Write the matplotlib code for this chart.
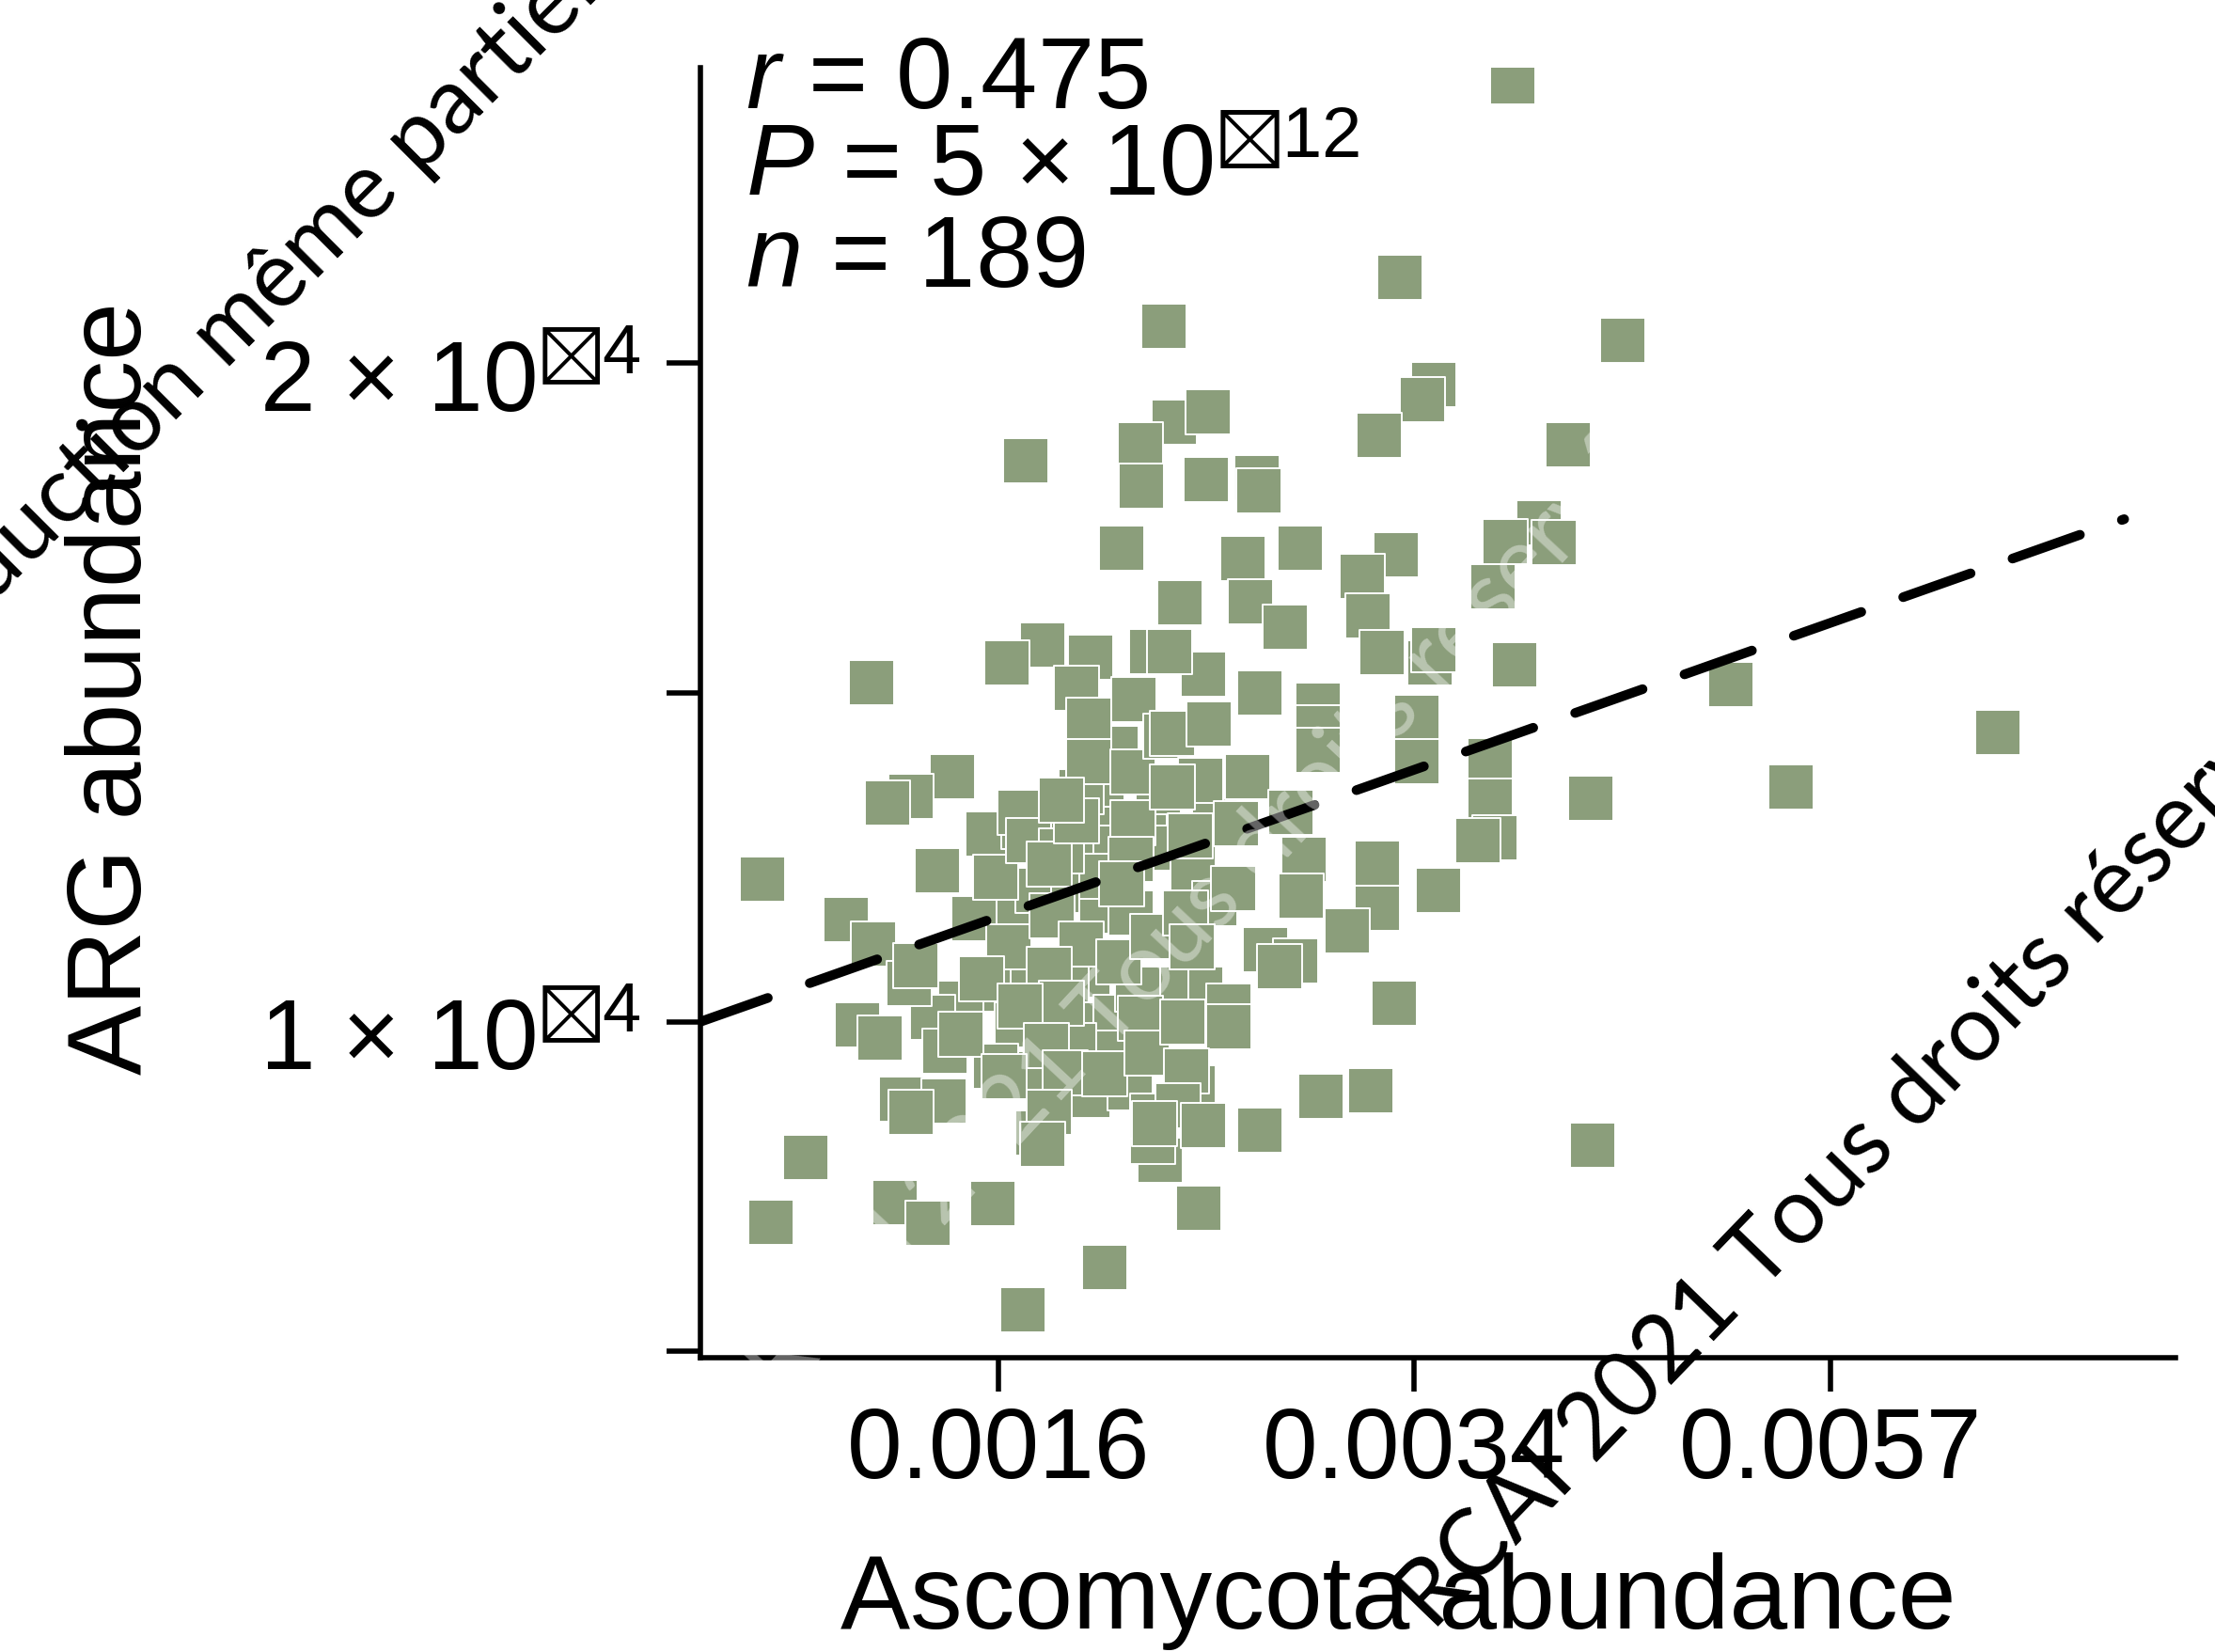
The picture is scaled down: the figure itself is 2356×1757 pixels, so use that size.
import matplotlib
matplotlib.use("Agg")
import matplotlib.pyplot as plt
import matplotlib.transforms as mtransforms
import numpy as np

# ---- data ----------------------------------------------------------------
# Ascomycota abundance (x, in units of 1e-3) and ARG abundance (y, in 1e-4)
ascomycota = np.array([
    # points hidden in the dense core
    1.750, 1.885, 1.970, 2.055, 2.170, 1.670, 1.750, 1.885, 1.998, 1.942,
    1.857, 1.723, 1.564, 1.670, 1.885, 2.055, 2.055, 1.942, 1.885, 1.750,
    1.591, 1.465, 1.366, 1.514, 1.564, 1.840, 1.998, 2.230, 2.230, 2.378,
    2.470, 2.408, 2.260, 2.533, 2.378, 2.111, 2.141, 1.998, 1.914, 2.055,
    1.697, 2.470,
    # visible points
    3.903, 3.329, 2.254, 4.495, 3.498, 3.441, 3.227, 4.195, 1.702, 2.295,
    2.439, 2.153, 2.159, 2.433, 2.658, 2.664, 2.077, 2.595, 2.852, 3.309,
    3.145, 4.037, 4.118, 3.859, 3.800, 2.319, 2.626, 2.786, 3.172, 3.241,
    3.477, 3.498, 3.911, 1.164, 1.765, 1.633, 1.953, 1.897, 2.129, 2.200,
    1.947, 1.947, 2.123, 2.123, 2.260, 1.435, 1.293, 1.215, 0.834, 1.385,
    1.082, 1.169, 1.591, 1.681, 1.712, 1.840, 1.792, 1.897, 1.840, 1.638,
    1.803, 1.914, 2.066, 2.117, 2.117, 2.077, 2.206, 2.420, 2.670, 2.937,
    2.937, 2.937, 3.412, 3.412, 3.785, 3.785, 3.807, 3.719, 4.318, 3.520,
    3.220, 3.220, 3.076, 2.871, 2.858, 2.552, 2.343, 2.614, 2.408, 2.564,
    2.812, 2.695, 2.832, 2.277, 2.289, 2.366, 2.445, 2.289, 5.107, 6.755,
    5.465, 0.958, 0.858, 1.242, 1.351, 1.580, 1.691, 2.009, 1.118, 1.192,
    1.288, 1.311, 1.410, 1.465, 1.261, 1.405, 1.293, 1.539, 1.792, 1.840,
    1.681, 1.781, 1.622, 1.852, 2.009, 1.750, 1.792, 1.765, 2.153, 2.182,
    2.236, 2.206, 2.206, 3.302, 2.950, 3.186, 2.670, 2.402, 4.326, 2.759,
    2.372, 2.331, 2.533, 2.349, 2.313, 2.420, 2.212,
]) * 1e-3

arg = np.array([
    1.297, 1.275, 1.318, 1.264, 1.286, 1.179, 1.200, 1.200, 1.168, 1.071,
    1.050, 1.050, 1.050, 0.996, 0.996, 1.007, 0.953, 0.889, 0.964, 0.921,
    0.932, 1.028, 1.007, 1.157, 1.286, 1.307, 1.361, 1.350, 1.264, 1.232,
    1.179, 1.050, 1.050, 1.024, 0.900, 0.900, 1.050, 1.221, 1.350, 1.415,
    1.297, 1.307,
    2.427, 2.131, 2.056, 2.035, 1.968, 1.945, 1.891, 1.876, 1.852, 1.910,
    1.927, 1.876, 1.814, 1.824, 1.827, 1.807, 1.719, 1.704, 1.719, 1.709,
    1.676, 1.758, 1.728, 1.730, 1.661, 1.636, 1.638, 1.599, 1.616, 1.561,
    1.545, 1.565, 1.543, 1.515, 1.573, 1.545, 1.554, 1.507, 1.490, 1.563,
    1.458, 1.395, 1.380, 1.303, 1.434, 1.372, 1.342, 1.333, 1.217, 1.230,
    1.155, 1.118, 1.219, 1.318, 1.275, 1.260, 1.239, 1.305, 1.337, 1.114,
    1.161, 1.118, 1.091, 1.247, 1.166, 1.209, 1.129, 1.528, 1.500, 1.481,
    1.447, 1.412, 1.462, 1.395, 1.397, 1.335, 1.279, 1.275, 1.339, 1.200,
    1.241, 1.172, 1.138, 1.247, 1.191, 1.202, 1.166, 1.372, 1.367, 1.301,
    1.318, 1.110, 1.093, 1.563, 1.438, 1.282, 1.453, 1.357, 1.513, 1.440,
    1.357, 0.794, 0.696, 0.726, 0.694, 0.724, 0.563, 0.627, 0.996, 0.975,
    1.058, 1.086, 0.955, 0.981, 0.882, 0.880, 0.863, 1.065, 1.080, 1.028,
    1.024, 0.964, 0.917, 0.923, 0.921, 0.831, 0.863, 0.814, 1.005, 0.953,
    0.790, 0.818, 0.857, 1.028, 0.887, 0.895, 0.835, 0.717, 0.812, 1.084,
    1.114, 1.000, 0.992, 0.925, 0.872, 0.842, 0.846,
]) * 1e-4

# regression line (linear in x**0.6 space)
fit_intercept = 0.7696e-4
fit_slope = 1.857e-3
fit_range = (0.000666, 0.00760)

x_limits = (0.000666, 0.007954)
y_limits = (0.49e-4, 2.449e-4)
x_ticks = [0.0016, 0.0034, 0.0057]
x_tick_labels = ["0.0016", "0.0034", "0.0057"]
y_ticks = [0.5e-4, 1.0e-4, 1.5e-4, 2.0e-4]
y_tick_labels = ["", r"1 × 10$^{\boxtimes 4}$", "", r"2 × 10$^{\boxtimes 4}$"]
stats_lines = [r"$r$ = 0.475", r"$P$ = 5 × 10$^{\boxtimes 12}$", r"$n$ = 189"]

POINT_COLOR = "#8B9E7B"
POWER = 0.6

plt.rcParams.update({
    "font.family": "Liberation Sans",
    "mathtext.fontset": "custom",
    "mathtext.rm": "Liberation Sans",
    "mathtext.it": "Liberation Sans:italic",
    "mathtext.bf": "Liberation Sans:bold",
    "mathtext.sf": "Liberation Sans",
    "mathtext.fallback": "stixsans",
})


def fwd(x):
    x = np.asarray(x, dtype=float)
    return np.sign(x) * np.abs(x) ** POWER


def inv(t):
    t = np.asarray(t, dtype=float)
    return np.sign(t) * np.abs(t) ** (1.0 / POWER)


W, H = 2356, 1757
fig = plt.figure(figsize=(W / 100, H / 100), dpi=100)
ax = fig.add_axes([745 / W, 1 - 1444 / H, (2314 - 745) / W, (1444 - 72) / H])
ax.set_xscale("function", functions=(fwd, inv))

ax.scatter(ascomycota, arg, marker="s", s=34.5 ** 2, c=POINT_COLOR,
           edgecolors="white", linewidths=1.4, zorder=2)

fx = np.array(fit_range)
fy = fit_intercept + fit_slope * fwd(fx)
ax.plot(fx, fy, color="black", lw=7.4, linestyle=(0, (7.4, 4.6)),
        dash_capstyle="round", zorder=3)

ax.set_xlim(*x_limits)
ax.set_ylim(*y_limits)
ax.set_xticks(x_ticks)
ax.set_xticklabels(x_tick_labels)
ax.set_yticks(y_ticks)
ax.set_yticklabels(y_tick_labels)
ax.minorticks_off()

for s in ("top", "right"):
    ax.spines[s].set_visible(False)
for s in ("left", "bottom"):
    ax.spines[s].set_linewidth(4)
ax.tick_params(axis="both", length=26, width=4, labelsize=76)
ax.tick_params(axis="x", pad=11)
ax.tick_params(axis="y", pad=20)

# y tick labels sit a little below their ticks in the reference
shift = mtransforms.ScaledTranslation(0, -0.12, fig.dpi_scale_trans)
for lab in ax.get_yticklabels():
    lab.set_transform(lab.get_transform() + shift)

for i, line in enumerate(stats_lines):
    ax.text(0.0306, [0.9688, 0.9002, 0.8305][i], line, transform=ax.transAxes,
            fontsize=78, ha="left", va="baseline")

fig.text(150 / W, 1 - 732 / H, "ARG abundance", rotation=90, fontsize=80,
         ha="center", va="baseline", rotation_mode="anchor")
fig.text(1487 / W, 1 - 1732 / H, "Ascomycota abundance", fontsize=80,
         ha="center", va="baseline")

# ---- watermark ------------------------------------------------------------
renderer = fig.canvas.get_renderer()
wm_font = dict(family="Lato", fontsize=71)


def place_from(text, prefix, px, py, rot, **kw):
    # anchor text so that the character after `prefix` starts at (px, py)
    ang = np.deg2rad(rot)
    probe = fig.text(0, 0, prefix.rstrip() + "x", **wm_font)
    w = probe.get_window_extent(renderer).width
    probe.set_text("x")
    w -= probe.get_window_extent(renderer).width
    probe.remove()
    if prefix.endswith(" "):
        sp = fig.text(0, 0, "x x", **wm_font)
        w2 = sp.get_window_extent(renderer).width
        sp.set_text("xx")
        w += w2 - sp.get_window_extent(renderer).width
        sp.remove()
    x0 = px - w * np.cos(ang)
    y0 = (H - py) - w * np.sin(ang)
    fig.text(x0 / W, y0 / H, text, rotation=rot, rotation_mode="anchor",
             ha="left", va="baseline", zorder=20, **wm_font, **kw)


place_from("Reproduction même partielle interdite", "Reproductio", 183, 451, 45,
           color="black")
place_from("RCAI 2021 Tous droits réservés", "RCAI 2021 ", 1872, 1375, 46,
           color="black")
fig.text(1250 / W, 1 - 1000 / H, "© RCAI 2021 Tous droits réservés",
         rotation=47, ha="center", va="center", color="white", alpha=0.4,
         family="Lato", fontsize=72, zorder=20)

fig.savefig("out.png", dpi=100, facecolor="white")
